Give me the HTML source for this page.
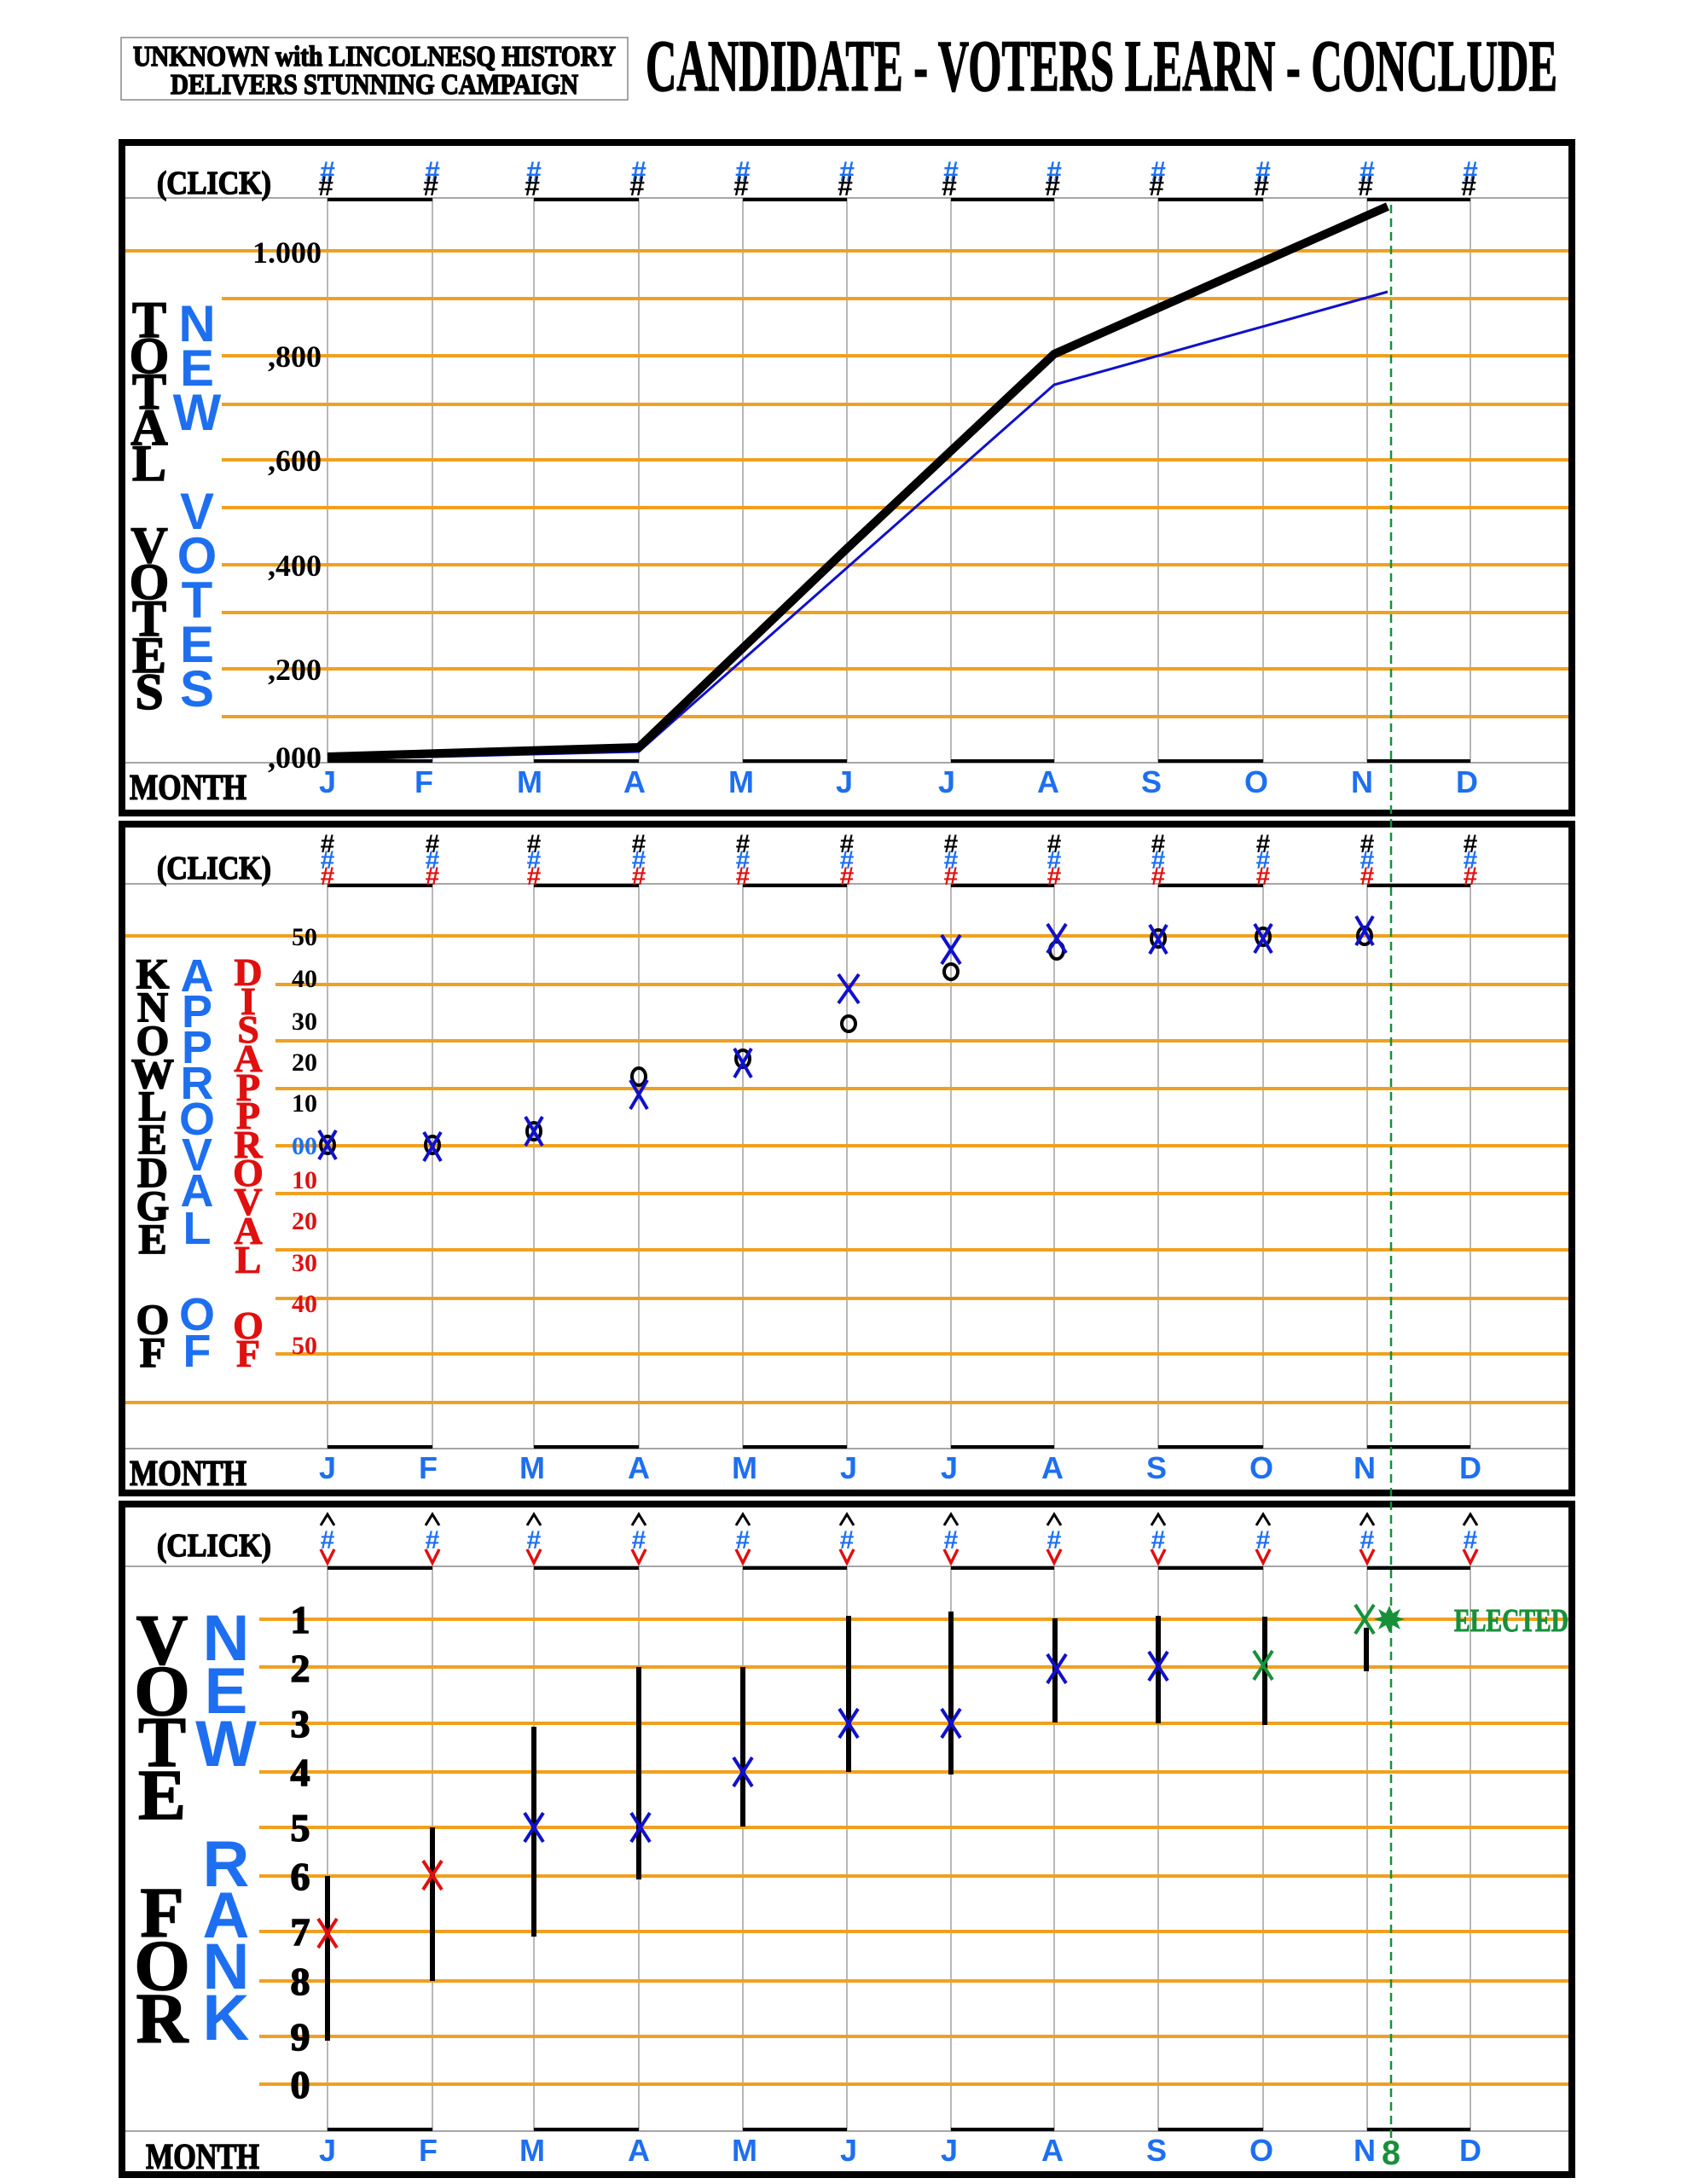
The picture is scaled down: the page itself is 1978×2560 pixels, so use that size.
<!DOCTYPE html>
<html><head><meta charset="utf-8"><style>html,body{margin:0;padding:0;background:#fff}svg{display:block}</style></head>
<body>
<svg xmlns="http://www.w3.org/2000/svg" width="1978" height="2560" viewBox="0 0 1978 2560">
<defs>
<style>
.sf{font-family:"Liberation Serif",serif;font-weight:bold}
.ss{font-family:"Liberation Sans",sans-serif;font-weight:bold}
.mo{font-family:"Liberation Sans",sans-serif;font-weight:bold;font-size:36px;fill:#1e6ff0;text-anchor:middle}
.gl{stroke:#999;stroke-width:1.4}
.or{stroke:#f0a020;stroke-width:4}
.hk{stroke:#000;stroke-width:1.5}
</style>
</defs>
<rect width="1978" height="2560" fill="#fff"/>
<!-- header -->
<rect x="142" y="44" width="594" height="73" fill="none" stroke="#888" stroke-width="1.5"/>
<text class="sf hk" x="439" y="77" font-size="34" text-anchor="middle" textLength="566" lengthAdjust="spacingAndGlyphs" stroke-width="0.8">UNKNOWN with LINCOLNESQ HISTORY</text>
<text class="sf hk" x="439" y="110" font-size="34" text-anchor="middle" textLength="478" lengthAdjust="spacingAndGlyphs" stroke-width="0.8">DELIVERS STUNNING CAMPAIGN</text>
<text class="sf hk" x="757" y="106" font-size="86" textLength="1069" lengthAdjust="spacingAndGlyphs" stroke-width="2">CANDIDATE - VOTERS LEARN - CONCLUDE</text>

<!-- ================= PANEL 1 ================= -->
<rect x="143" y="167" width="1700" height="786" fill="none" stroke="#000" stroke-width="8"/>
<line x1="147" y1="232" x2="1839" y2="232" stroke="#888" stroke-width="1.5"/>
<line x1="147" y1="894" x2="1839" y2="894" stroke="#888" stroke-width="1.5"/>
<g class="gl">
<line x1="384" y1="232" x2="384" y2="894"/><line x1="507" y1="232" x2="507" y2="894"/><line x1="626" y1="232" x2="626" y2="894"/><line x1="749" y1="232" x2="749" y2="894"/><line x1="871" y1="232" x2="871" y2="894"/><line x1="993" y1="232" x2="993" y2="894"/><line x1="1115" y1="232" x2="1115" y2="894"/><line x1="1236" y1="232" x2="1236" y2="894"/><line x1="1358" y1="232" x2="1358" y2="894"/><line x1="1481" y1="232" x2="1481" y2="894"/><line x1="1603" y1="232" x2="1603" y2="894"/><line x1="1724" y1="232" x2="1724" y2="894"/>
</g>
<g stroke="#000" stroke-width="4">
<line x1="384" y1="234" x2="507" y2="234"/><line x1="626" y1="234" x2="749" y2="234"/><line x1="871" y1="234" x2="993" y2="234"/><line x1="1115" y1="234" x2="1236" y2="234"/><line x1="1358" y1="234" x2="1481" y2="234"/><line x1="1603" y1="234" x2="1724" y2="234"/>
<line x1="384" y1="892" x2="507" y2="892"/><line x1="626" y1="892" x2="749" y2="892"/><line x1="871" y1="892" x2="993" y2="892"/><line x1="1115" y1="892" x2="1236" y2="892"/><line x1="1358" y1="892" x2="1481" y2="892"/><line x1="1603" y1="892" x2="1724" y2="892"/>
</g>
<g class="or">
<line x1="147" y1="294" x2="1839" y2="294"/><line x1="260" y1="350" x2="1839" y2="350"/><line x1="260" y1="417" x2="1839" y2="417"/><line x1="260" y1="474" x2="1839" y2="474"/><line x1="260" y1="539" x2="1839" y2="539"/><line x1="260" y1="595" x2="1839" y2="595"/><line x1="260" y1="662" x2="1839" y2="662"/><line x1="260" y1="718" x2="1839" y2="718"/><line x1="260" y1="784" x2="1839" y2="784"/><line x1="260" y1="840" x2="1839" y2="840"/>
</g>
<g class="sf" font-size="36" text-anchor="end">
<text x="377" y="308">1.000</text><text x="377" y="430">,800</text><text x="377" y="552">,600</text><text x="377" y="675">,400</text><text x="377" y="797">,200</text><text x="377" y="900">,000</text>
</g>
<text class="sf hk" x="184" y="227" font-size="38" textLength="134" lengthAdjust="spacingAndGlyphs" stroke-width="1">(CLICK)</text>
<g class="ss" font-size="32" text-anchor="middle">
<g fill="#1e6ff0"><text x="384" y="212">#</text><text x="507" y="212">#</text><text x="626" y="212">#</text><text x="749" y="212">#</text><text x="871" y="212">#</text><text x="993" y="212">#</text><text x="1115" y="212">#</text><text x="1236" y="212">#</text><text x="1358" y="212">#</text><text x="1481" y="212">#</text><text x="1603" y="212">#</text><text x="1724" y="212">#</text></g>
<g fill="#000"><text x="382" y="229">#</text><text x="505" y="229">#</text><text x="624" y="229">#</text><text x="747" y="229">#</text><text x="869" y="229">#</text><text x="991" y="229">#</text><text x="1113" y="229">#</text><text x="1234" y="229">#</text><text x="1356" y="229">#</text><text x="1479" y="229">#</text><text x="1601" y="229">#</text><text x="1722" y="229">#</text></g>
</g>
<!-- vertical labels -->
<g class="sf hk" font-size="60" text-anchor="middle" fill="#000" stroke-width="1">
<text x="175" y="395">T</text><text x="175" y="437">O</text><text x="175" y="479">T</text><text x="175" y="521">A</text><text x="175" y="563">L</text>
<text x="175" y="659">V</text><text x="175" y="702">O</text><text x="175" y="745">T</text><text x="175" y="788">E</text><text x="175" y="831">S</text>
</g>
<g class="ss" font-size="60" text-anchor="middle" fill="#1e6ff0">
<text x="231" y="400">N</text><text x="231" y="452">E</text><text x="231" y="504">W</text>
<text x="231" y="620">V</text><text x="231" y="672">O</text><text x="231" y="724">T</text><text x="231" y="776">E</text><text x="231" y="828">S</text>
</g>
<text class="sf hk" x="152" y="937" font-size="42" textLength="137" lengthAdjust="spacingAndGlyphs" stroke-width="1">MONTH</text>
<g class="mo"><text x="384" y="929">J</text><text x="497" y="929">F</text><text x="621" y="929">M</text><text x="744" y="929">A</text><text x="869" y="929">M</text><text x="990" y="929">J</text><text x="1110" y="929">J</text><text x="1229" y="929">A</text><text x="1350" y="929">S</text><text x="1473" y="929">O</text><text x="1597" y="929">N</text><text x="1720" y="929">D</text></g>
<!-- series -->
<polyline points="384,890 749,881 1236,451 1627,342" fill="none" stroke="#1010cc" stroke-width="3"/>
<polyline points="384,887 749,876 993,643 1236,415 1627,242" fill="none" stroke="#000" stroke-width="10"/>

<!-- ================= PANEL 2 ================= -->
<rect x="143" y="966" width="1700" height="784" fill="none" stroke="#000" stroke-width="8"/>
<line x1="147" y1="1036" x2="1839" y2="1036" stroke="#888" stroke-width="1.5"/>
<line x1="147" y1="1698" x2="1839" y2="1698" stroke="#888" stroke-width="1.5"/>
<g class="gl">
<line x1="384" y1="1036" x2="384" y2="1698"/><line x1="507" y1="1036" x2="507" y2="1698"/><line x1="626" y1="1036" x2="626" y2="1698"/><line x1="749" y1="1036" x2="749" y2="1698"/><line x1="871" y1="1036" x2="871" y2="1698"/><line x1="993" y1="1036" x2="993" y2="1698"/><line x1="1115" y1="1036" x2="1115" y2="1698"/><line x1="1236" y1="1036" x2="1236" y2="1698"/><line x1="1358" y1="1036" x2="1358" y2="1698"/><line x1="1481" y1="1036" x2="1481" y2="1698"/><line x1="1603" y1="1036" x2="1603" y2="1698"/><line x1="1724" y1="1036" x2="1724" y2="1698"/>
</g>
<g stroke="#000" stroke-width="4">
<line x1="384" y1="1038" x2="507" y2="1038"/><line x1="626" y1="1038" x2="749" y2="1038"/><line x1="871" y1="1038" x2="993" y2="1038"/><line x1="1115" y1="1038" x2="1236" y2="1038"/><line x1="1358" y1="1038" x2="1481" y2="1038"/><line x1="1603" y1="1038" x2="1724" y2="1038"/>
<line x1="384" y1="1696" x2="507" y2="1696"/><line x1="626" y1="1696" x2="749" y2="1696"/><line x1="871" y1="1696" x2="993" y2="1696"/><line x1="1115" y1="1696" x2="1236" y2="1696"/><line x1="1358" y1="1696" x2="1481" y2="1696"/><line x1="1603" y1="1696" x2="1724" y2="1696"/>
</g>
<g class="or">
<line x1="147" y1="1097" x2="1839" y2="1097"/><line x1="323" y1="1154" x2="1839" y2="1154"/><line x1="323" y1="1220" x2="1839" y2="1220"/><line x1="323" y1="1276" x2="1839" y2="1276"/><line x1="323" y1="1343" x2="1839" y2="1343"/><line x1="323" y1="1399" x2="1839" y2="1399"/><line x1="323" y1="1465" x2="1839" y2="1465"/><line x1="323" y1="1522" x2="1839" y2="1522"/><line x1="323" y1="1587" x2="1839" y2="1587"/><line x1="147" y1="1644" x2="1839" y2="1644"/>
</g>
<g class="sf" font-size="30" text-anchor="end">
<text x="372" y="1108">50</text><text x="372" y="1157">40</text><text x="372" y="1207">30</text><text x="372" y="1255">20</text><text x="372" y="1303">10</text>
<text x="372" y="1353" fill="#1e6ff0">00</text>
<g fill="#e01010"><text x="372" y="1393">10</text><text x="372" y="1441">20</text><text x="372" y="1490">30</text><text x="372" y="1538">40</text><text x="372" y="1587">50</text></g>
</g>
<text class="sf hk" x="184" y="1030" font-size="38" textLength="134" lengthAdjust="spacingAndGlyphs" stroke-width="1">(CLICK)</text>
<g class="ss" font-size="30" text-anchor="middle">
<g fill="#000"><text x="384" y="999">#</text><text x="507" y="999">#</text><text x="626" y="999">#</text><text x="749" y="999">#</text><text x="871" y="999">#</text><text x="993" y="999">#</text><text x="1115" y="999">#</text><text x="1236" y="999">#</text><text x="1358" y="999">#</text><text x="1481" y="999">#</text><text x="1603" y="999">#</text><text x="1724" y="999">#</text></g>
<g fill="#1e6ff0"><text x="384" y="1018">#</text><text x="507" y="1018">#</text><text x="626" y="1018">#</text><text x="749" y="1018">#</text><text x="871" y="1018">#</text><text x="993" y="1018">#</text><text x="1115" y="1018">#</text><text x="1236" y="1018">#</text><text x="1358" y="1018">#</text><text x="1481" y="1018">#</text><text x="1603" y="1018">#</text><text x="1724" y="1018">#</text></g>
<g fill="#e01010"><text x="384" y="1037">#</text><text x="507" y="1037">#</text><text x="626" y="1037">#</text><text x="749" y="1037">#</text><text x="871" y="1037">#</text><text x="993" y="1037">#</text><text x="1115" y="1037">#</text><text x="1236" y="1037">#</text><text x="1358" y="1037">#</text><text x="1481" y="1037">#</text><text x="1603" y="1037">#</text><text x="1724" y="1037">#</text></g>
</g>
<g class="sf hk" font-size="50" text-anchor="middle" fill="#000" stroke-width="1">
<text x="179" y="1158">K</text><text x="179" y="1197">N</text><text x="179" y="1236">O</text><text x="179" y="1275">W</text><text x="179" y="1313">L</text><text x="179" y="1352">E</text><text x="179" y="1391">D</text><text x="179" y="1430">G</text><text x="179" y="1469">E</text>
<text x="179" y="1563">O</text><text x="179" y="1602">F</text>
</g>
<g class="ss" font-size="54" text-anchor="middle" fill="#1e6ff0">
<text x="231" y="1162">A</text><text x="231" y="1204">P</text><text x="231" y="1246">P</text><text x="231" y="1288">R</text><text x="231" y="1330">O</text><text x="231" y="1372">V</text><text x="231" y="1414">A</text><text x="231" y="1458">L</text>
<text x="231" y="1559">O</text><text x="231" y="1602">F</text>
</g>
<g class="sf" font-size="46" text-anchor="middle" fill="#e01010" stroke="#e01010" stroke-width="1">
<text x="291" y="1155">D</text><text x="291" y="1189">I</text><text x="291" y="1222">S</text><text x="291" y="1256">A</text><text x="291" y="1290">P</text><text x="291" y="1323">P</text><text x="291" y="1357">R</text><text x="291" y="1390">O</text><text x="291" y="1424">V</text><text x="291" y="1458">A</text><text x="291" y="1492">L</text>
<text x="291" y="1569">O</text><text x="291" y="1602">F</text>
</g>
<text class="sf hk" x="152" y="1741" font-size="42" textLength="137" lengthAdjust="spacingAndGlyphs" stroke-width="1">MONTH</text>
<g class="mo"><text x="384" y="1733">J</text><text x="502" y="1733">F</text><text x="624" y="1733">M</text><text x="749" y="1733">A</text><text x="873" y="1733">M</text><text x="995" y="1733">J</text><text x="1113" y="1733">J</text><text x="1234" y="1733">A</text><text x="1356" y="1733">S</text><text x="1479" y="1733">O</text><text x="1600" y="1733">N</text><text x="1724" y="1733">D</text></g>
<!-- circles -->
<g fill="none" stroke="#000" stroke-width="4">
<ellipse cx="384" cy="1342" rx="8" ry="10"/><ellipse cx="507" cy="1342" rx="8" ry="10"/><ellipse cx="626" cy="1326" rx="8" ry="10"/><ellipse cx="749" cy="1262" rx="8" ry="10"/><ellipse cx="871" cy="1241" rx="8" ry="10"/><ellipse cx="995" cy="1200" rx="8" ry="9"/><ellipse cx="1115" cy="1139" rx="8" ry="9"/><ellipse cx="1239" cy="1114" rx="8" ry="10"/><ellipse cx="1358" cy="1100" rx="8" ry="10"/><ellipse cx="1481" cy="1098" rx="8" ry="10"/><ellipse cx="1600" cy="1097" rx="8" ry="10"/>
</g>
<!-- blue X -->
<g stroke="#1010cc" stroke-width="4" fill="none">
<path d="M374,1325 L394,1359 M394,1325 L374,1359"/>
<path d="M497,1327 L517,1361 M517,1327 L497,1361"/>
<path d="M616,1309 L636,1343 M636,1309 L616,1343"/>
<path d="M739,1266 L759,1300 M759,1266 L739,1300"/>
<path d="M861,1229 L881,1263 M881,1229 L861,1263"/>
<path d="M983,1142 L1007,1176 M1007,1142 L983,1176"/>
<path d="M1104,1096 L1126,1130 M1126,1096 L1104,1130"/>
<path d="M1228,1083 L1250,1117 M1250,1083 L1228,1117"/>
<path d="M1348,1084 L1368,1118 M1368,1084 L1348,1118"/>
<path d="M1471,1083 L1491,1117 M1491,1083 L1471,1117"/>
<path d="M1590,1074 L1610,1108 M1610,1074 L1590,1108"/>
</g>

<!-- ================= PANEL 3 ================= -->
<rect x="143" y="1763" width="1700" height="786" fill="none" stroke="#000" stroke-width="8"/>
<line x1="147" y1="1836" x2="1839" y2="1836" stroke="#888" stroke-width="1.5"/>
<line x1="147" y1="2498" x2="1839" y2="2498" stroke="#888" stroke-width="1.5"/>
<g class="gl">
<line x1="384" y1="1836" x2="384" y2="2498"/><line x1="507" y1="1836" x2="507" y2="2498"/><line x1="626" y1="1836" x2="626" y2="2498"/><line x1="749" y1="1836" x2="749" y2="2498"/><line x1="871" y1="1836" x2="871" y2="2498"/><line x1="993" y1="1836" x2="993" y2="2498"/><line x1="1115" y1="1836" x2="1115" y2="2498"/><line x1="1236" y1="1836" x2="1236" y2="2498"/><line x1="1358" y1="1836" x2="1358" y2="2498"/><line x1="1481" y1="1836" x2="1481" y2="2498"/><line x1="1603" y1="1836" x2="1603" y2="2498"/><line x1="1724" y1="1836" x2="1724" y2="2498"/>
</g>
<g stroke="#000" stroke-width="4">
<line x1="384" y1="1838" x2="507" y2="1838"/><line x1="626" y1="1838" x2="749" y2="1838"/><line x1="871" y1="1838" x2="993" y2="1838"/><line x1="1115" y1="1838" x2="1236" y2="1838"/><line x1="1358" y1="1838" x2="1481" y2="1838"/><line x1="1603" y1="1838" x2="1724" y2="1838"/>
<line x1="384" y1="2496" x2="507" y2="2496"/><line x1="626" y1="2496" x2="749" y2="2496"/><line x1="871" y1="2496" x2="993" y2="2496"/><line x1="1115" y1="2496" x2="1236" y2="2496"/><line x1="1358" y1="2496" x2="1481" y2="2496"/><line x1="1603" y1="2496" x2="1724" y2="2496"/>
</g>
<g class="or">
<line x1="304" y1="1898" x2="1839" y2="1898"/><line x1="304" y1="1954" x2="1839" y2="1954"/><line x1="304" y1="2020" x2="1839" y2="2020"/><line x1="304" y1="2077" x2="1839" y2="2077"/><line x1="304" y1="2142" x2="1839" y2="2142"/><line x1="304" y1="2199" x2="1839" y2="2199"/><line x1="304" y1="2264" x2="1839" y2="2264"/><line x1="304" y1="2322" x2="1839" y2="2322"/><line x1="304" y1="2387" x2="1839" y2="2387"/><line x1="304" y1="2443" x2="1839" y2="2443"/>
</g>
<g class="sf hk" font-size="46" text-anchor="middle" fill="#000" stroke-width="1">
<text x="352" y="1914">1</text><text x="352" y="1971">2</text><text x="352" y="2036">3</text><text x="352" y="2093">4</text><text x="352" y="2158">5</text><text x="352" y="2215">6</text><text x="352" y="2280">7</text><text x="352" y="2338">8</text><text x="352" y="2403">9</text><text x="352" y="2459">0</text>
</g>
<text class="sf hk" x="184" y="1824" font-size="38" textLength="134" lengthAdjust="spacingAndGlyphs" stroke-width="1">(CLICK)</text>
<g stroke="#000" stroke-width="3" fill="none">
<path d="M376,1788 L384,1775 L392,1788 M499,1788 L507,1775 L515,1788 M618,1788 L626,1775 L634,1788 M741,1788 L749,1775 L757,1788 M863,1788 L871,1775 L879,1788 M985,1788 L993,1775 L1001,1788 M1107,1788 L1115,1775 L1123,1788 M1228,1788 L1236,1775 L1244,1788 M1350,1788 L1358,1775 L1366,1788 M1473,1788 L1481,1775 L1489,1788 M1595,1788 L1603,1775 L1611,1788 M1716,1788 L1724,1775 L1732,1788"/>
</g>
<g class="ss" font-size="30" text-anchor="middle" fill="#1e6ff0">
<text x="384" y="1815">#</text><text x="507" y="1815">#</text><text x="626" y="1815">#</text><text x="749" y="1815">#</text><text x="871" y="1815">#</text><text x="993" y="1815">#</text><text x="1115" y="1815">#</text><text x="1236" y="1815">#</text><text x="1358" y="1815">#</text><text x="1481" y="1815">#</text><text x="1603" y="1815">#</text><text x="1724" y="1815">#</text>
</g>
<g stroke="#e01010" stroke-width="3.5" fill="none">
<path d="M376,1816 L384,1832 L392,1816 M499,1816 L507,1832 L515,1816 M618,1816 L626,1832 L634,1816 M741,1816 L749,1832 L757,1816 M863,1816 L871,1832 L879,1816 M985,1816 L993,1832 L1001,1816 M1107,1816 L1115,1832 L1123,1816 M1228,1816 L1236,1832 L1244,1816 M1350,1816 L1358,1832 L1366,1816 M1473,1816 L1481,1832 L1489,1816 M1595,1816 L1603,1832 L1611,1816 M1716,1816 L1724,1832 L1732,1816"/>
</g>
<g class="sf hk" font-size="84" text-anchor="middle" fill="#000" stroke-width="1.5">
<text x="190" y="1950">V</text><text x="190" y="2010">O</text><text x="190" y="2070">T</text><text x="190" y="2132">E</text>
<text x="190" y="2270">F</text><text x="190" y="2332">O</text><text x="190" y="2394">R</text>
</g>
<g class="ss" font-size="76" text-anchor="middle" fill="#1e6ff0">
<text x="265" y="1946">N</text><text x="265" y="2008">E</text><text x="265" y="2070">W</text>
<text x="265" y="2211">R</text><text x="265" y="2271">A</text><text x="265" y="2331">N</text><text x="265" y="2391">K</text>
</g>
<text class="sf hk" x="171" y="2542" font-size="42" textLength="133" lengthAdjust="spacingAndGlyphs" stroke-width="1">MONTH</text>
<g class="mo"><text x="384" y="2533">J</text><text x="502" y="2533">F</text><text x="624" y="2533">M</text><text x="749" y="2533">A</text><text x="873" y="2533">M</text><text x="995" y="2533">J</text><text x="1113" y="2533">J</text><text x="1234" y="2533">A</text><text x="1356" y="2533">S</text><text x="1479" y="2533">O</text><text x="1600" y="2533">N</text><text x="1724" y="2533">D</text></g>
<text class="ss" x="1631" y="2537" font-size="40" text-anchor="middle" fill="#18903a" textLength="22" lengthAdjust="spacingAndGlyphs">8</text>
<!-- bars -->
<g stroke="#000" stroke-width="6">
<line x1="384" y1="2199" x2="384" y2="2392"/><line x1="507" y1="2142" x2="507" y2="2322"/><line x1="626" y1="2024" x2="626" y2="2270"/><line x1="749" y1="1954" x2="749" y2="2203"/><line x1="871" y1="1954" x2="871" y2="2141"/><line x1="995" y1="1894" x2="995" y2="2077"/><line x1="1115" y1="1889" x2="1115" y2="2080"/><line x1="1237" y1="1897" x2="1237" y2="2019"/><line x1="1358" y1="1894" x2="1358" y2="2020"/><line x1="1483" y1="1895" x2="1483" y2="2022"/><line x1="1602" y1="1908" x2="1602" y2="1959"/>
</g>
<g stroke-width="4" fill="none">
<path stroke="#e01010" d="M373,2249 L395,2283 M395,2249 L373,2283"/>
<path stroke="#e01010" d="M496,2181 L518,2215 M518,2181 L496,2215"/>
<path stroke="#1010cc" d="M615,2125 L637,2159 M637,2125 L615,2159"/>
<path stroke="#1010cc" d="M740,2125 L762,2159 M762,2125 L740,2159"/>
<path stroke="#1010cc" d="M860,2060 L882,2094 M882,2060 L860,2094"/>
<path stroke="#1010cc" d="M984,2003 L1006,2037 M1006,2003 L984,2037"/>
<path stroke="#1010cc" d="M1104,2003 L1126,2037 M1126,2003 L1104,2037"/>
<path stroke="#1010cc" d="M1228,1939 L1250,1973 M1250,1939 L1228,1973"/>
<path stroke="#1010cc" d="M1347,1936 L1369,1970 M1369,1936 L1347,1970"/>
<path stroke="#18903a" d="M1470,1935 L1492,1969 M1492,1935 L1470,1969"/>
<path stroke="#18903a" d="M1589,1881 L1611,1915 M1611,1881 L1589,1915"/>
</g>
<polygon fill="#18903a" points="1629,1882 1633,1891 1642,1886 1638,1895 1647,1898 1638,1901 1642,1910 1633,1905 1629,1914 1625,1905 1616,1910 1620,1901 1611,1898 1620,1895 1616,1886 1625,1891"/>
<text class="sf" x="1705" y="1912" font-size="38" fill="#18903a" stroke="#18903a" stroke-width="1" textLength="134" lengthAdjust="spacingAndGlyphs">ELECTED</text>

<!-- green dashed line -->
<line x1="1631" y1="240" x2="1631" y2="2510" stroke="#18903a" stroke-width="2.5" stroke-dasharray="10,6"/>
</svg>
</body></html>
